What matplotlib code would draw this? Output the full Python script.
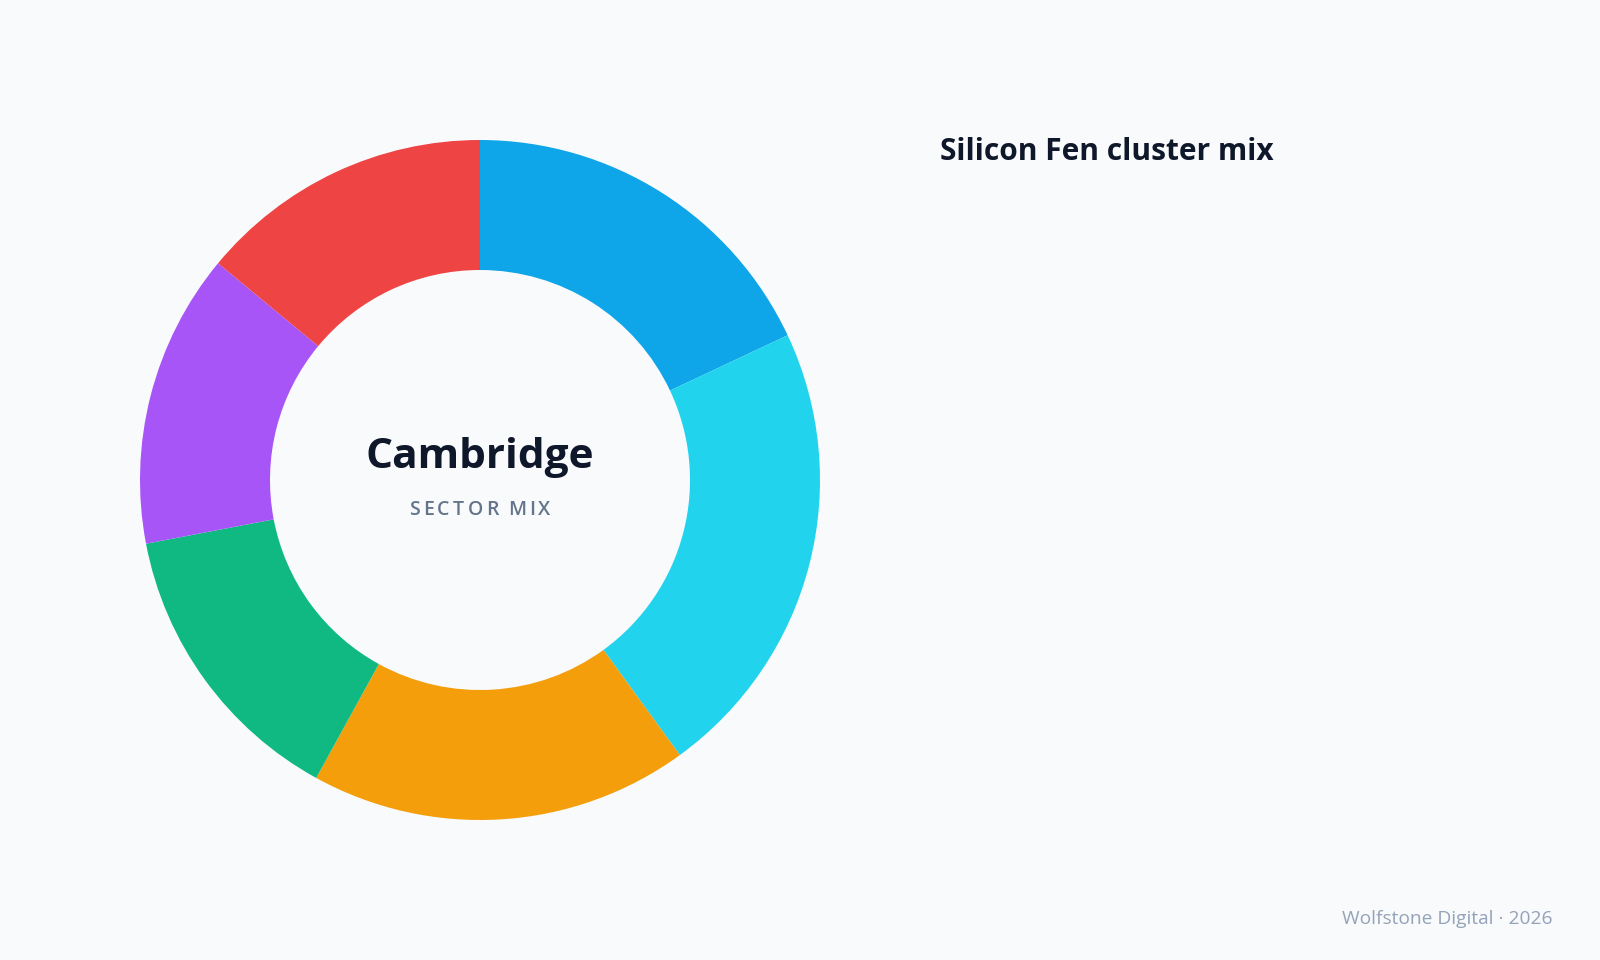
import matplotlib
matplotlib.use("Agg")
import matplotlib.pyplot as plt
from matplotlib.textpath import TextPath
from matplotlib.font_manager import FontProperties

# sector shares, clockwise from 12 o'clock (legend entries are not shown in the chart)
sectors = ["Sector 1", "Sector 2", "Sector 3", "Sector 4", "Sector 5", "Sector 6"]
shares = [18, 22, 18, 14, 14, 14]
colors = ["#0EA5E9", "#22D3EE", "#F59E0B", "#10B981", "#A855F7", "#EF4444"]

center_title = "Cambridge"
center_sub = "SECTOR MIX"
legend_title = "Silicon Fen cluster mix"
footer = "Wolfstone Digital \u00b7 2026"

BG = "#F8FAFC"
W, H = 1600, 960
FONT = ['Open Sans', 'DejaVu Sans']

plt.rcParams['font.family'] = FONT


def spaced_text(ax, x, y, s, size, tracking, **kw):
    # text with extra letter spacing, centred on x (data units = pixels here)
    fp = FontProperties(family=FONT, size=size, weight=kw.get("fontweight", "normal"))
    px = size * 100 / 72
    widths = []
    for ch in s:
        if ch == " ":
            widths.append(TextPath((0, 0), "a a", prop=fp).get_extents().width
                          - 2 * TextPath((0, 0), "a", prop=fp).get_extents().width)
        else:
            widths.append(TextPath((0, 0), ch + "|", prop=fp).get_extents().width
                          - TextPath((0, 0), "|", prop=fp).get_extents().width)
    scale = px / size
    widths = [w * scale for w in widths]
    gap = tracking * px
    total = sum(widths) + gap * (len(s) - 1)
    cur = x - total / 2
    for ch, w in zip(s, widths):
        if ch != " ":
            ax.text(cur + w / 2, y, ch, ha="center", va="center", fontsize=size, **kw)
        cur += w + gap


fig = plt.figure(figsize=(16, 9.6), dpi=100, facecolor=BG)
ax = fig.add_axes([0, 0, 1, 1])
ax.set_facecolor(BG)

cx, cy = 480, H - 480
R = 340
ring = 130

ax.pie(shares, colors=colors, startangle=90, counterclock=False,
       center=(cx, cy), radius=R, frame=True,
       wedgeprops=dict(width=ring, linewidth=0))
ax.set_xlim(0, W)
ax.set_ylim(0, H)
ax.set_aspect("equal")
ax.axis("off")

ax.text(cx, H - 457, center_title, ha="center", va="center",
        fontsize=30.5, fontweight="bold", color="#0F172A")
spaced_text(ax, cx, H - 510, center_sub, 14, 0.0,
            color="#64748B", fontweight="semibold")

ax.text(940, H - 152, legend_title, ha="left", va="center",
        fontsize=21.5, fontweight="bold", color="#0F172A")

ax.text(1552, H - 919, footer, ha="right", va="center",
        fontsize=13.8, color="#94A3B8")

fig.savefig("out.png", dpi=100, facecolor=BG)
